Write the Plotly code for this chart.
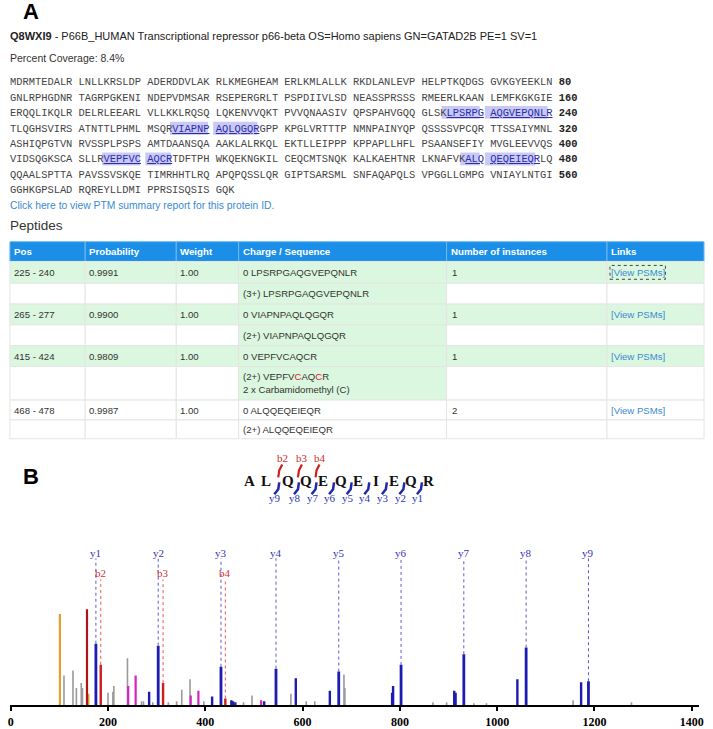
import plotly.graph_objects as go

W, H = 713, 729


def X(px):
    return px / W


def Y(py):
    return 1 - py / H


# ---------------- data ----------------
protein_id = "Q8WXI9"
protein_desc = "P66B_HUMAN Transcriptional repressor p66-beta OS=Homo sapiens GN=GATAD2B PE=1 SV=1"
percent_coverage = 8.4
sequence_lines = [
    "MDRMTEDALR LNLLKRSLDP ADERDDVLAK RLKMEGHEAM ERLKMLALLK RKDLANLEVP HELPTKQDGS GVKGYEEKLN",
    "GNLRPHGDNR TAGRPGKENI NDEPVDMSAR RSEPERGRLT PSPDIIVLSD NEASSPRSSS RMEERLKAAN LEMFKGKGIE",
    "ERQQLIKQLR DELRLEEARL VLLKKLRQSQ LQKENVVQKT PVVQNAASIV QPSPAHVGQQ GLSKLPSRPG AQGVEPQNLR",
    "TLQGHSVIRS ATNTTLPHML MSQRVIAPNP AQLQGQRGPP KPGLVRTTTP NMNPAINYQP QSSSSVPCQR TTSSAIYMNL",
    "ASHIQPGTVN RVSSPLPSPS AMTDAANSQA AAKLALRKQL EKTLLEIPPP KPPAPLLHFL PSAANSEFIY MVGLEEVVQS",
    "VIDSQGKSCA SLLRVEPFVC AQCRTDFTPH WKQEKNGKIL CEQCMTSNQK KALKAEHTNR LKNAFVKALQ QEQEIEQRLQ",
    "QQAALSPTTA PAVSSVSKQE TIMRHHTLRQ APQPQSSLQR GIPTSARSML SNFAQAPQLS VPGGLLGMPG VNIAYLNTGI",
    "GGHKGPSLAD RQREYLLDMI PPRSISQSIS GQK",
]
covered_ranges = [(225, 240), (265, 277), (415, 424), (468, 478)]
ptm_link_text = "Click here to view PTM summary report for this protein ID."

table_headers = ["Pos", "Probability", "Weight", "Charge / Sequence", "Number of instances", "Links"]
pep_pos = ["225 - 240", "265 - 277", "415 - 424", "468 - 478"]
pep_prob = ["0.9991", "0.9900", "0.9809", "0.9987"]
pep_weight = ["1.00", "1.00", "1.00", "1.00"]
pep_seq = ["LPSRPGAQGVEPQNLR", "VIAPNPAQLQGQR", "VEPFVCAQCR", "ALQQEQEIEQR"]
pep_charge = ["3+", "2+", "2+", "2+"]
pep_instances = ["1", "1", "1", "2"]
pep_mods = ["", "", "2 x Carbamidomethyl (C)", ""]
pep_mod_sites = [[], [], [6, 9], []]  # 1-based residue positions (red)

frag_seq = "ALQQEQEIEQR"
frag_b_obs = [2, 3, 4]
frag_y_obs = [1, 2, 3, 4, 5, 6, 7, 8, 9]

# spectrum (m/z, relative intensity %)
y_ion_labels = ["y1", "y2", "y3", "y4", "y5", "y6", "y7", "y8", "y9"]
y_ion_mz = [175.1, 303.2, 432.2, 545.3, 674.3, 802.4, 931.4, 1059.5, 1187.6]
y_ion_int = [64, 62, 40, 38, 35, 42, 53, 60, 25]
b_ion_labels = ["b2", "b3", "b4"]
b_ion_mz = [185.1, 313.2, 441.2]
b_ion_int = [42, 23, 7]
orange_mz = [101.1, 159.5]
orange_int = [95, 12]
red_mz = [156.8]
red_int = [100]
magenta_mz = [241.5, 256.8, 370.0, 385.8, 514.8]
magenta_int = [20, 31, 10, 15, 5]
blue_mz = [284.5, 414.0, 453.5, 457.0, 461.7, 521.0, 586.0, 656.0, 784.0, 786.0,
           911.7, 914.5, 1041.5, 1172.5]
blue_int = [14, 9, 5, 4, 3, 4, 28, 15, 13, 20, 15, 13, 27, 24]
gray_mz = [109.5, 128.0, 135.0, 145.0, 147.5, 200.0, 210.0, 212.0, 240.0, 269.0,
           273.0, 292.0, 324.0, 341.0, 351.6, 368.6, 397.0, 478.6, 496.0, 576.0,
           607.5, 625.0, 685.0, 687.0, 868.0, 896.0, 952.0, 978.0, 1156.0, 1276.0]
gray_int = [31, 36, 18, 23, 18, 13, 14, 20, 49, 4,
            4, 3, 3, 4, 16, 27, 4, 3, 10, 12,
            4, 4, 32, 18, 3, 3, 2, 2, 5, 3]
x_ticks = [0, 200, 400, 600, 800, 1000, 1200, 1400]

# ---------------- helpers ----------------
SANS = "Liberation Sans, Arial, sans-serif"
MONO = "Liberation Mono, Courier New, monospace"
SERIF = "Liberation Serif, Times New Roman, serif"
TBL = 9.6  # table body font size

annotations = []
shapes = []


def text(px, py, s, size=11, color="#333333", family=SANS, xanchor="left"):
    annotations.append(dict(
        x=X(px), y=Y(py), xref="paper", yref="paper", text=s, showarrow=False,
        xanchor=xanchor, yanchor="middle", align="left",
        borderpad=0, borderwidth=0,
        font=dict(size=size, color=color, family=family)))


def rect(x0, y0, x1, y1, fill, line=None, lw=0, dash="solid"):
    shapes.append(dict(type="rect", xref="paper", yref="paper",
                       x0=X(x0), x1=X(x1), y0=Y(y1), y1=Y(y0),
                       fillcolor=fill, layer="below",
                       line=dict(width=lw, color=line or fill, dash=dash)))


def path(pts, color, width):
    d = "M " + " L ".join(f"{X(a):.5f},{Y(b):.5f}" for a, b in pts)
    shapes.append(dict(type="path", xref="paper", yref="paper", path=d,
                       line=dict(color=color, width=width)))


# ---------------- section A ----------------
text(21, 12, "<b>A</b>", size=22, color="#000000")
text(8, 36, f"<b>{protein_id}</b> - {protein_desc}", size=11.0, color="#222222")
text(8, 59, f"Percent Coverage: {percent_coverage}%", size=10.5, color="#333333")

cov = set()
for a, b in covered_ranges:
    cov.update(range(a, b + 1))

seq_x0, seq_cw = 8, 6.236
seq_y = [83, 99, 114, 130, 145, 161, 177, 192]
HL_TEXT = "#2c2ca8"
for li, line in enumerate(sequence_lines):
    blocks = line.split(" ")
    html_blocks = []
    resnum = li * 80
    for bi, blk in enumerate(blocks):
        runs = []
        for pi, aa in enumerate(blk):
            resnum += 1
            c = resnum in cov
            if runs and runs[-1][0] == c:
                runs[-1][1] += aa
            else:
                runs.append([c, aa, pi])
        h = ""
        for c, s, start in runs:
            if c:
                h += f"<span style='color:{HL_TEXT}'><u>{s}</u></span>"
                col = bi * 11 + start
                rect(seq_x0 + col * seq_cw - 0.5, seq_y[li] - 7,
                     seq_x0 + (col + len(s)) * seq_cw + 0.5, seq_y[li] + 6, "#c9c9f6")
            else:
                h += s
        html_blocks.append(h)
    s = " ".join(html_blocks)
    if len(line.replace(" ", "")) == 80:
        s += f" <b><span style='color:#222222'>{(li + 1) * 80}</span></b>"
    text(seq_x0, seq_y[li], s, size=10.4, color="#444444", family=MONO)

text(8, 207, ptm_link_text, size=10.3, color="#3a8ad2")
text(8, 228, "Peptides", size=13.5, color="#333333")

# table
col_x = [8, 84, 176, 239, 449, 611, 709]
row_y = [244, 264, 286, 307, 328, 349, 370, 404, 424, 443]
GREEN = "#dcf7df"
for ci, name in enumerate(table_headers):
    rect(col_x[ci], row_y[0], col_x[ci + 1], row_y[1], "#1b8fe7", line="#6fb8f2", lw=1)
    text(col_x[ci] + 4, (row_y[0] + row_y[1]) / 2, f"<b>{name}</b>", size=9.7,
         color="#ffffff")

for k in range(len(pep_pos)):
    r0, r1, r2 = row_y[1 + 2 * k], row_y[2 + 2 * k], row_y[3 + 2 * k]
    main_fill = GREEN if k < 3 else "#ffffff"
    for ci in range(6):
        rect(col_x[ci], r0, col_x[ci + 1], r1, main_fill, line="#e3e6e3", lw=1)
        sub_fill = GREEN if (ci == 3 and k < 3) else "#ffffff"
        rect(col_x[ci], r1, col_x[ci + 1], r2, sub_fill, line="#e3e6e3", lw=1)
    ym = (r0 + r1) / 2
    text(col_x[0] + 4, ym, pep_pos[k], size=TBL)
    text(col_x[1] + 4, ym, pep_prob[k], size=TBL)
    text(col_x[2] + 4, ym, pep_weight[k], size=TBL)
    text(col_x[3] + 4, ym, "0 " + pep_seq[k], size=TBL)
    text(col_x[4] + 5, ym, pep_instances[k], size=TBL)
    text(col_x[5] + 4, ym, "[View PSMs]", size=TBL, color="#3a8ad2")
    if k == 0:
        rect(col_x[5] + 3, r0 + 4, col_x[5] + 59, r1 - 4, "rgba(0,0,0,0)",
             line="#444444", lw=1, dash="dot")
    seq_html = ""
    for i, aa in enumerate(pep_seq[k], start=1):
        seq_html += f"<span style='color:#e02020'>{aa}</span>" if i in pep_mod_sites[k] else aa
    sub_txt = f"({pep_charge[k]}) {seq_html}"
    if pep_mods[k]:
        text(col_x[3] + 4, r1 + 10, sub_txt, size=TBL)
        text(col_x[3] + 4, r1 + 23, pep_mods[k], size=TBL)
    else:
        text(col_x[3] + 4, (r1 + r2) / 2, sub_txt, size=TBL)

# ---------------- section B ----------------
text(21, 481, "<b>B</b>", size=22, color="#000000")

letter_px = [250, 267, 289, 306.8, 324.5, 342.2, 360, 377.8, 395.5, 413.2, 431]
for i, aa in enumerate(frag_seq):
    text(letter_px[i], 486, f"<b>{aa}</b>", size=15, color="#111111", family=SERIF,
         xanchor="center")
n = len(frag_seq)
for gi in range(1, n - 1):
    gx = (letter_px[gi] + letter_px[gi + 1]) / 2
    bnum = gi + 1
    ynum = n - gi - 1
    if bnum in frag_b_obs:
        path([(gx + 1, 482), (gx + 2, 475), (gx + 5, 469)], "#cc2020", 2.2)
        text(gx + 5, 462, f"b{bnum}", size=11, color="#cc2a2a", family=SERIF, xanchor="center")
    if ynum in frag_y_obs:
        path([(gx + 2, 487), (gx + 1, 494), (gx - 3, 499)], "#1f2aa8", 2.5)
        text(gx - 2, 503, f"y{ynum}", size=11, color="#2a35b0", family=SERIF, xanchor="center")


def sticks(mz, inten):
    xs, ys = [], []
    for m, v in zip(mz, inten):
        xs += [m, m, None]
        ys += [0, v, None]
    return xs, ys


fig = go.Figure()
for mz, it, col, w in [
    (gray_mz, gray_int, "#9a9a9a", 1.6),
    (orange_mz, orange_int, "#e3a02a", 2.2),
    (red_mz, red_int, "#b0141a", 2.2),
    (magenta_mz, magenta_int, "#d424c4", 2.2),
    (blue_mz, blue_int, "#1c1cb0", 2.4),
    (b_ion_mz, b_ion_int, "#cc1f1f", 2.4),
    (y_ion_mz, y_ion_int, "#1c1cb0", 2.8),
]:
    xs, ys = sticks(mz, it)
    fig.add_trace(go.Scatter(x=xs, y=ys, mode="lines", line=dict(color=col, width=w),
                             hoverinfo="skip", showlegend=False))

# dotted guide lines + labels
xs, ys = [], []
for m, v in zip(y_ion_mz, y_ion_int):
    xs += [m, m, None]
    ys += [v, 153, None]
fig.add_trace(go.Scatter(x=xs, y=ys, mode="lines", line=dict(color="#5a5ad8", width=1, dash="dot"),
                         hoverinfo="skip", showlegend=False))
xs, ys = [], []
for m, v in zip(b_ion_mz, b_ion_int):
    xs += [m, m, None]
    ys += [v, 131, None]
fig.add_trace(go.Scatter(x=xs, y=ys, mode="lines", line=dict(color="#ee5555", width=1, dash="dot"),
                         hoverinfo="skip", showlegend=False))
for lab, m in zip(y_ion_labels, y_ion_mz):
    annotations.append(dict(x=m, y=159, xref="x", yref="y", text=lab, showarrow=False,
                            yanchor="middle", font=dict(family=SERIF, size=11, color="#3535b5")))
for lab, m in zip(b_ion_labels, b_ion_mz):
    annotations.append(dict(x=m, y=138, xref="x", yref="y", text=lab, showarrow=False,
                            yanchor="middle", font=dict(family=SERIF, size=11, color="#d03030")))

k_px = 0.4913
x_lo, x_hi = -2, 1415
dom0 = 8.8 + x_lo * k_px
dom1 = 8.8 + x_hi * k_px

fig.update_layout(
    width=W, height=H, margin=dict(l=0, r=0, t=0, b=0),
    paper_bgcolor="white", plot_bgcolor="white",
    annotations=annotations, shapes=shapes,
    xaxis=dict(domain=[X(dom0), X(dom1)], range=[x_lo, x_hi], showgrid=False, zeroline=False,
               showline=True, linecolor="#000000", linewidth=2, fixedrange=True,
               ticks="outside", ticklen=4, tickwidth=1.5, tickcolor="#000000",
               tickvals=x_ticks, ticktext=[str(t) for t in x_ticks],
               tickfont=dict(family=SERIF, size=12, color="#000000", weight="bold")),
    yaxis=dict(domain=[Y(712), Y(557)], range=[0, 160], visible=False, fixedrange=True),
)

fig.write_html("out.html", config={"displayModeBar": False},
               post_script="document.body.style.margin='0';document.body.style.overflow='hidden';")
